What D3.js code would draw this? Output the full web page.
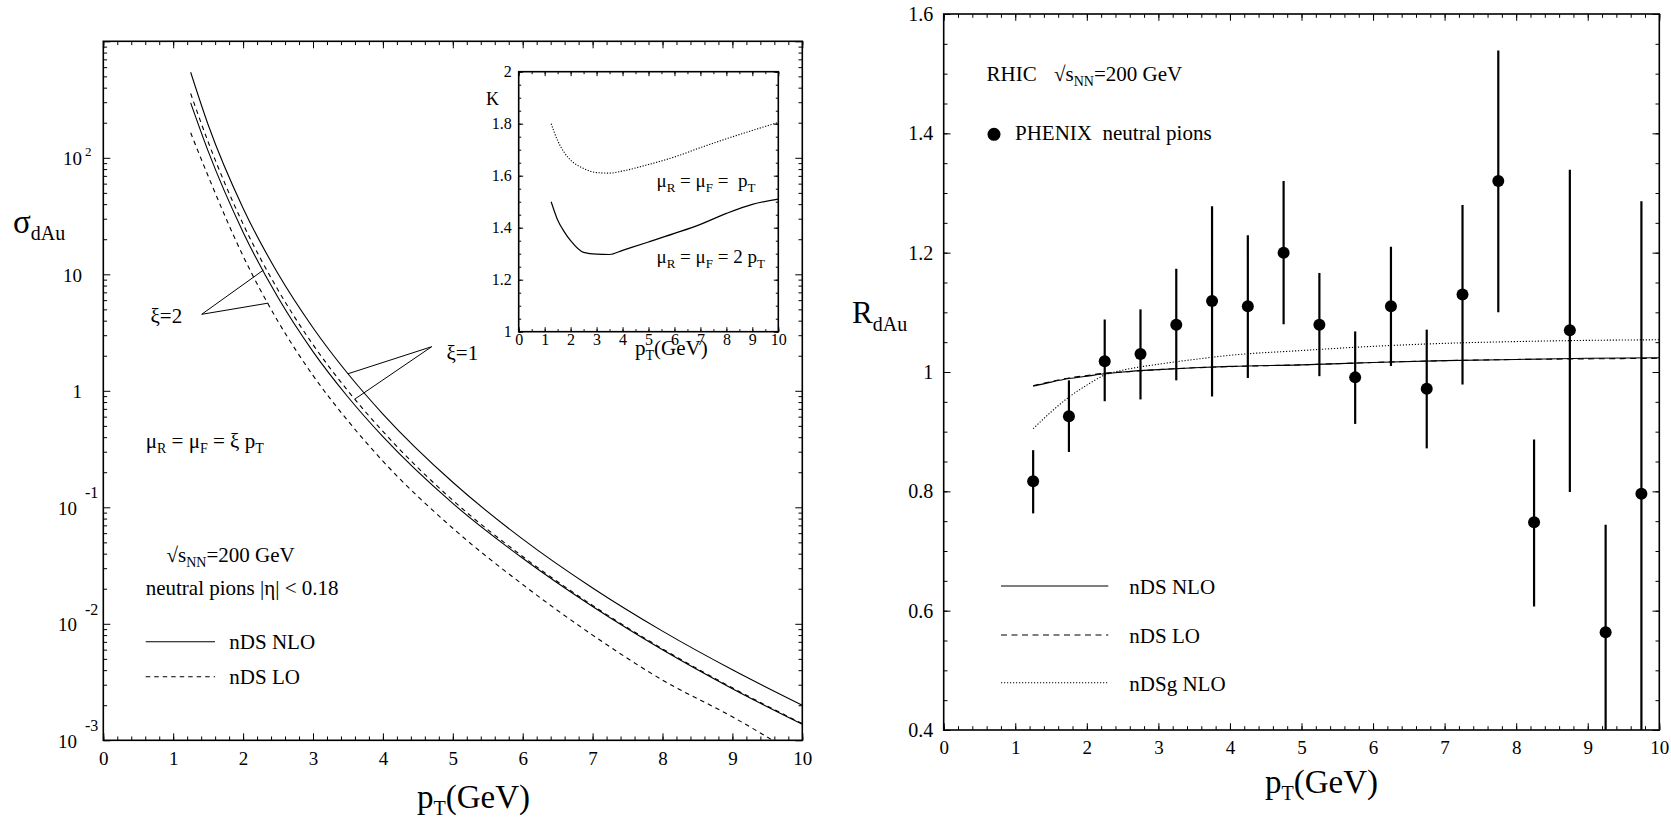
<!DOCTYPE html>
<html>
<head>
<meta charset="utf-8">
<script src="https://cdn.jsdelivr.net/npm/d3@7"></script>
<style>
  body { margin: 0; background: #fff; }
  svg { font-family: "Liberation Serif", "Times New Roman", serif; }
  text { fill: #000; white-space: pre; }
</style>
</head>
<body>
<svg id="chart" width="1671" height="820"></svg>
<script>
// ---- left panel: sigma_dAu vs pT
const sigmaPt = [1.25, 1.5, 2, 2.5, 3, 3.5, 4, 5, 6, 7, 8, 9, 10];
const sigmaNloXi1 = [542, 192, 36.9, 10.1, 3.48, 1.40, 0.632, 0.164, 0.0533, 0.0203, 0.00865, 0.00403, 0.00200];
const sigmaLoXi1 = [356, 137, 27.0, 7.33, 2.49, 0.998, 0.448, 0.1148, 0.0378, 0.01439, 0.00610, 0.00282, 0.00139];
const sigmaNloXi2 = [296, 114, 23.0, 6.31, 2.17, 0.885, 0.404, 0.108, 0.0365, 0.01406, 0.00598, 0.00277, 0.001374];
const sigmaLoXi2 = [164, 69.7, 14.35, 3.94, 1.355, 0.552, 0.249, 0.0661, 0.02173, 0.0080, 0.00329, 0.00159, 0.00070];

const decadeTicks = [1e-3, 1e-2, 1e-1, 1, 10, 100];
const decadeMain = ['10', '10', '10', '1', '10', '10'];
const decadeSup = ['-3', '-2', '-1', '', '', '2'];

// ---- inset: K factor
const kPt = [1.25, 1.5, 1.75, 2, 2.5, 3, 3.5, 4, 5, 6, 7, 8, 9, 10];
const kScale1 = [1.80, 1.735, 1.69, 1.66, 1.628, 1.612, 1.61, 1.618, 1.643, 1.672, 1.708, 1.742, 1.774, 1.805];
const kScale2 = [1.50, 1.43, 1.385, 1.35, 1.305, 1.298, 1.297, 1.313, 1.345, 1.378, 1.413, 1.455, 1.49, 1.51];

// ---- right panel: R_dAu
const phenixPt = [1.25, 1.75, 2.25, 2.75, 3.25, 3.75, 4.25, 4.75, 5.25, 5.75, 6.25, 6.75, 7.25, 7.75, 8.25, 8.75, 9.25, 9.75];
const phenixR = [0.817, 0.926, 1.018, 1.030, 1.079, 1.119, 1.110, 1.200, 1.079, 0.991, 1.110, 0.972, 1.130, 1.320, 0.748, 1.070, 0.564, 0.796];
const phenixHigh = [0.869, 0.986, 1.088, 1.105, 1.173, 1.278, 1.229, 1.320, 1.166, 1.068, 1.210, 1.071, 1.280, 1.539, 0.887, 1.339, 0.744, 1.286];
const phenixLow = [0.763, 0.866, 0.951, 0.954, 0.986, 0.959, 0.990, 1.080, 0.993, 0.913, 1.010, 0.872, 0.979, 1.100, 0.607, 0.799, 0.384, 0.306];

const fitPt = [1.25, 1.5, 1.75, 2, 2.25, 2.5, 3, 3.5, 4, 5, 6, 7, 8, 9, 10];
const rNdsNlo = [0.976, 0.983, 0.989, 0.993, 0.997, 1.000, 1.004, 1.007, 1.0095, 1.012, 1.016, 1.019, 1.021, 1.023, 1.024];
const rNdsLo = [0.977, 0.984, 0.990, 0.994, 0.998, 1.000, 1.004, 1.007, 1.009, 1.012, 1.016, 1.019, 1.021, 1.022, 1.023];
const rNdsgNlo = [0.905, 0.933, 0.958, 0.978, 0.995, 1.003, 1.013, 1.021, 1.028, 1.036, 1.043, 1.048, 1.051, 1.053, 1.054];

const svg = d3.select('#chart');

// text with sub/superscripts: parts are [string, size, shift from baseline]
function richText(g, x, y, parts, anchor) {
    const t = g.append('text').attr('x', x).attr('y', y);
    if (anchor) t.attr('text-anchor', anchor);
    let prev = 0;
    parts.forEach(([str, size, shift]) => {
        t.append('tspan')
            .attr('dy', (shift || 0) - prev)
            .style('font-size', size + 'px')
            .text(str);
        prev = shift || 0;
    });
    return t;
}

// drop the axis domain line and the default sans-serif font d3 puts on the group
function cleanAxis(a, size) {
    a.select('.domain').remove();
    a.attr('font-family', null).attr('font-size', null);
    if (size) a.selectAll('text').style('font-size', size + 'px');
}

// inward ticks on all four sides of a frame
function frameTicks(g, x, y, xVals, yVals, len) {
    const [x0, x1] = x.range();
    const [y1, y0] = y.range();
    g.append('g').attr('transform', `translate(0,${y1})`)
        .call(d3.axisBottom(x).tickValues(xVals).tickSize(-len).tickFormat('')).call(cleanAxis);
    g.append('g').attr('transform', `translate(0,${y0})`)
        .call(d3.axisTop(x).tickValues(xVals).tickSize(-len).tickFormat('')).call(cleanAxis);
    g.append('g').attr('transform', `translate(${x0},0)`)
        .call(d3.axisLeft(y).tickValues(yVals).tickSize(-len).tickFormat('')).call(cleanAxis);
    g.append('g').attr('transform', `translate(${x1},0)`)
        .call(d3.axisRight(y).tickValues(yVals).tickSize(-len).tickFormat('')).call(cleanAxis);
}

function frameRect(g, x, y, w) {
    const [x0, x1] = x.range();
    const [y1, y0] = y.range();
    g.append('rect').attr('x', x0).attr('y', y0).attr('width', x1 - x0).attr('height', y1 - y0)
        .attr('fill', 'none').attr('stroke', '#000').attr('stroke-width', w);
}

function range(a, b, step) {
    const out = [];
    for (let v = a; v <= b + 1e-9; v += step) out.push(+v.toFixed(4));
    return out;
}

// log-space interpolation along a curve, used for annotation pointers
function interpLog(xs, ys, p) {
    const i = d3.bisectRight(xs, p) - 1;
    const t = (p - xs[i]) / (xs[i + 1] - xs[i]);
    return Math.pow(10, Math.log10(ys[i]) * (1 - t) + Math.log10(ys[i + 1]) * t);
}

// ================= LEFT PANEL =================
const left = svg.append('g');
const xL = d3.scaleLinear().domain([0, 10]).range([103.3, 802.3]);
const yL = d3.scaleLog().domain([1e-3, 1e3]).range([740.3, 41.3]);

const minorLog = [];
for (let e = -3; e < 3; e++) for (let m = 2; m <= 9; m++) minorLog.push(m * Math.pow(10, e));

frameTicks(left, xL, yL, range(0, 10, 0.2), minorLog, 3.8);
frameTicks(left, xL, yL, range(0, 10, 1), d3.range(-3, 4).map(e => Math.pow(10, e)), 7);

// x labels
left.append('g').attr('transform', `translate(0,740.3)`)
    .call(d3.axisBottom(xL).tickValues(range(0, 10, 1)).tickSize(0).tickPadding(11).tickFormat(d3.format('d')))
    .call(a => cleanAxis(a, 19));

// y decade labels with superscripts
decadeTicks.forEach((v, i) => {
    const neg = decadeSup[i].startsWith('-');
    const yy = yL(v);
    left.append('text').attr('x', neg ? 77 : 82).attr('y', yy + 7.5)
        .attr('text-anchor', 'end').style('font-size', '19px').text(decadeMain[i]);
    if (decadeSup[i]) {
        left.append('text').attr('x', 85).attr('y', neg ? yy - 9 : yy - 1.5)
            .style('font-size', neg ? '16px' : '13px').text(decadeSup[i]);
    }
});

left.append('clipPath').attr('id', 'clipL').append('rect')
    .attr('x', 103.3).attr('y', 41.3).attr('width', 699).attr('height', 699);

const lineL = d3.line().x((d, i) => xL(sigmaPt[i])).y(d => yL(d)).curve(d3.curveMonotoneX);
const leftCurves = [
    { v: sigmaNloXi1, dash: null },
    { v: sigmaLoXi1, dash: '4.5,4' },
    { v: sigmaNloXi2, dash: null },
    { v: sigmaLoXi2, dash: '4.5,4' }
];
left.append('g').attr('clip-path', 'url(#clipL)')
    .selectAll('path').data(leftCurves).enter().append('path')
    .attr('d', d => lineL(d.v))
    .attr('fill', 'none').attr('stroke', '#000').attr('stroke-width', 1.1)
    .attr('stroke-dasharray', d => d.dash);

frameRect(left, xL, yL, 1.6);

// pointers
const ptr = (x1, y1, x2, y2) => left.append('line').attr('x1', x1).attr('y1', y1)
    .attr('x2', x2).attr('y2', y2).attr('stroke', '#000').attr('stroke-width', 1);
ptr(201.7, 314.3, xL(2.29), yL(interpLog(sigmaPt, sigmaNloXi2, 2.29)));
ptr(201.7, 314.3, xL(2.36), yL(interpLog(sigmaPt, sigmaLoXi2, 2.36)));
ptr(431.7, 346.7, xL(3.5), yL(interpLog(sigmaPt, sigmaNloXi1, 3.5)));
ptr(431.7, 346.7, xL(3.6), yL(interpLog(sigmaPt, sigmaLoXi1, 3.6)));
richText(left, 150.5, 323, [['ξ=2', 21]]);
richText(left, 446.5, 360, [['ξ=1', 21]]);

richText(left, 145.7, 447.5, [['μ', 21], ['R', 14, 5], [' = μ', 21], ['F', 14, 5], [' = ξ p', 21], ['T', 14, 5]]);
richText(left, 166.5, 561.5, [['√s', 21], ['NN', 14, 5], ['=200 GeV', 21]]);
richText(left, 145.7, 595, [['neutral pions |η| < 0.18', 21]]);

left.append('line').attr('x1', 145.7).attr('x2', 215).attr('y1', 641.7).attr('y2', 641.7)
    .attr('stroke', '#000').attr('stroke-width', 1.1);
left.append('line').attr('x1', 145.7).attr('x2', 215).attr('y1', 676.7).attr('y2', 676.7)
    .attr('stroke', '#000').attr('stroke-width', 1.1).attr('stroke-dasharray', '4.5,4');
richText(left, 229.3, 649, [['nDS NLO', 21]]);
richText(left, 229.3, 684, [['nDS LO', 21]]);

// axis titles
richText(left, 13, 233, [['σ', 33], ['dAu', 20, 7]]);
richText(left, 417, 808, [['p', 33], ['T', 20, 7], ['(GeV)', 33]]);

// ================= INSET =================
const inset = svg.append('g');
const xI = d3.scaleLinear().domain([0, 10]).range([518.7, 778.3]);
const yI = d3.scaleLinear().domain([1, 2]).range([331.7, 71.7]);

frameTicks(inset, xI, yI, range(0, 10, 0.5), range(1, 2, 0.05), 2.5);
frameTicks(inset, xI, yI, range(0, 10, 1), range(1, 2, 0.2), 4.5);

inset.append('g').attr('transform', 'translate(0,331.7)')
    .call(d3.axisBottom(xI).tickValues(range(0, 10, 1)).tickSize(0).tickPadding(2).tickFormat(d3.format('d')))
    .call(a => cleanAxis(a, 16));
inset.append('g').attr('transform', 'translate(518.7,0)')
    .call(d3.axisLeft(yI).tickValues(range(1, 2, 0.2)).tickSize(0).tickPadding(7)
        .tickFormat(d => (d === 1 || d === 2) ? d3.format('d')(d) : d3.format('.1f')(d)))
    .call(a => cleanAxis(a, 16));

const lineI = d3.line().x((d, i) => xI(kPt[i])).y(d => yI(d)).curve(d3.curveMonotoneX);
inset.append('path').attr('d', lineI(kScale1)).attr('fill', 'none').attr('stroke', '#000')
    .attr('stroke-width', 1.1).attr('stroke-dasharray', '1.2,1.6');
inset.append('path').attr('d', lineI(kScale2)).attr('fill', 'none').attr('stroke', '#000')
    .attr('stroke-width', 1.2);

frameRect(inset, xI, yI, 1.6);

richText(inset, 486, 105, [['K', 18]]);
// the inset x title sits over the tick labels, as in the original figure
richText(inset, 635, 355, [['p', 21], ['T', 14, 5], ['(GeV)', 21]]);
richText(inset, 656.5, 186.5, [['μ', 19], ['R', 13, 5], [' = μ', 19], ['F', 13, 5], [' =  p', 19], ['T', 13, 5]]);
richText(inset, 656.5, 263.3, [['μ', 19], ['R', 13, 5], [' = μ', 19], ['F', 13, 5], [' = 2 p', 19], ['T', 13, 5]]);

// ================= RIGHT PANEL =================
const right = svg.append('g');
const xR = d3.scaleLinear().domain([0, 10]).range([943.7, 1659.3]);
const yR = d3.scaleLinear().domain([0.4, 1.6]).range([730, 14]);

frameTicks(right, xR, yR, range(0, 10, 0.2), range(0.4, 1.6, 0.05), 3.8);
frameTicks(right, xR, yR, range(0, 10, 1), range(0.4, 1.6, 0.2), 6.8);

right.append('g').attr('transform', 'translate(0,730)')
    .call(d3.axisBottom(xR).tickValues(range(0, 10, 1)).tickSize(0).tickPadding(11).tickFormat(d3.format('d')))
    .call(a => cleanAxis(a, 19));
right.append('g').attr('transform', 'translate(943.7,0)')
    .call(d3.axisLeft(yR).tickValues(range(0.4, 1.6, 0.2)).tickSize(0).tickPadding(10.5)
        .tickFormat(d => d === 1 ? '1' : d3.format('.1f')(d)))
    .call(a => cleanAxis(a, 20));

right.append('clipPath').attr('id', 'clipR').append('rect')
    .attr('x', 943.7).attr('y', 14).attr('width', 715.6).attr('height', 716);

const lineR = d3.line().x((d, i) => xR(fitPt[i])).y(d => yR(d)).curve(d3.curveMonotoneX);
const rightCurves = [
    { v: rNdsgNlo, dash: '1.2,1.8' },
    { v: rNdsLo, dash: '6,4.5' },
    { v: rNdsNlo, dash: null }
];
const gR = right.append('g').attr('clip-path', 'url(#clipR)');
gR.selectAll('path').data(rightCurves).enter().append('path')
    .attr('d', d => lineR(d.v))
    .attr('fill', 'none').attr('stroke', '#000').attr('stroke-width', 1.1)
    .attr('stroke-dasharray', d => d.dash);

gR.selectAll('line.err').data(phenixPt).enter().append('line')
    .attr('class', 'err')
    .attr('x1', d => xR(d)).attr('x2', d => xR(d))
    .attr('y1', (d, i) => yR(phenixLow[i])).attr('y2', (d, i) => yR(phenixHigh[i]))
    .attr('stroke', '#000').attr('stroke-width', 2.2);
gR.selectAll('circle').data(phenixPt).enter().append('circle')
    .attr('cx', d => xR(d)).attr('cy', (d, i) => yR(phenixR[i])).attr('r', 6)
    .attr('fill', '#000');

frameRect(right, xR, yR, 1.6);

richText(right, 986.5, 81, [['RHIC', 21]]);
richText(right, 1054, 81, [['√s', 21], ['NN', 14, 5], ['=200 GeV', 21]]);
right.append('circle').attr('cx', 994).attr('cy', 134.3).attr('r', 6.5).attr('fill', '#000');
richText(right, 1015, 140, [['PHENIX  neutral pions', 21]]);

const legR = [
    { y: 586, dash: null, label: 'nDS NLO' },
    { y: 635, dash: '6,4.5', label: 'nDS LO' },
    { y: 682.7, dash: '1.2,1.8', label: 'nDSg NLO' }
];
legR.forEach(l => {
    right.append('line').attr('x1', 1001).attr('x2', 1108.3).attr('y1', l.y).attr('y2', l.y)
        .attr('stroke', '#000').attr('stroke-width', 1.1).attr('stroke-dasharray', l.dash);
    richText(right, 1129.3, l.y + 8, [[l.label, 21]]);
});

richText(right, 852, 323, [['R', 31], ['dAu', 20, 8]]);
richText(right, 1265, 793, [['p', 33], ['T', 20, 7], ['(GeV)', 33]]);
</script>
</body>
</html>
